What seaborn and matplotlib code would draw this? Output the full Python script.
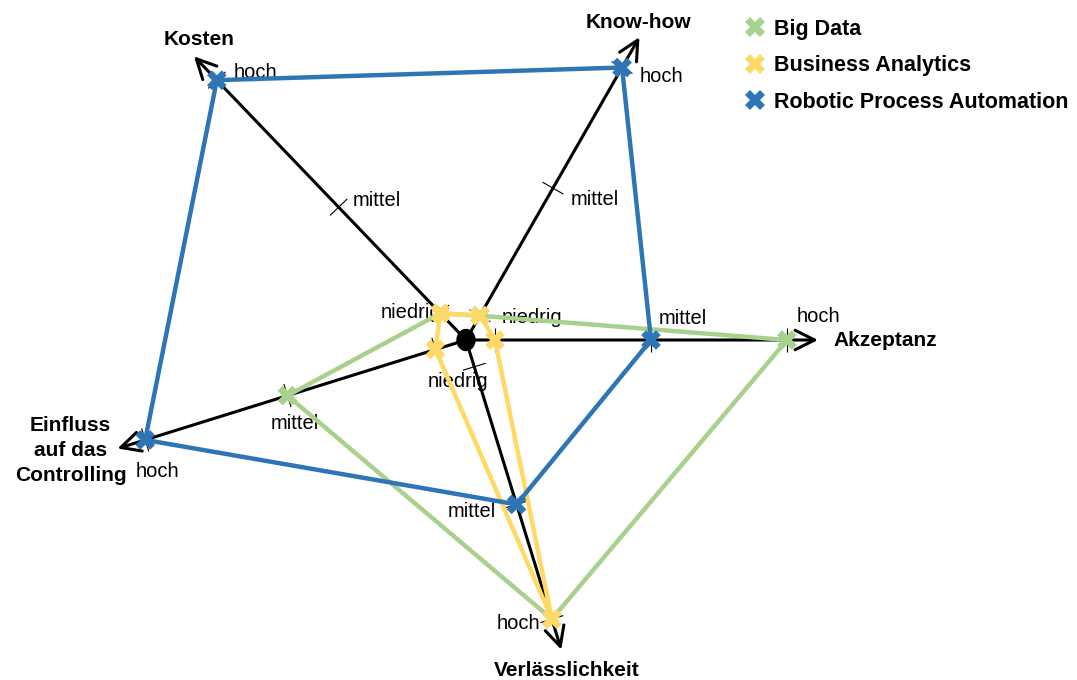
import numpy as np
import pandas as pd
import matplotlib
matplotlib.use("Agg")
import matplotlib.pyplot as plt
from matplotlib.collections import LineCollection
from matplotlib.patches import Ellipse
import seaborn as sns

# Dimensionen des Netzdiagramms und Ausprägungen
dimensions = ["Kosten", "Know-how", "Akzeptanz", "Verlässlichkeit", "Einfluss\nauf das\nControlling"]
levels = ["niedrig", "mittel", "hoch"]
series = ["Big Data", "Business Analytics", "Robotic Process Automation"]

big_data = ["niedrig", "niedrig", "hoch", "hoch", "mittel"]
business_analytics = ["niedrig", "niedrig", "niedrig", "hoch", "niedrig"]
robotic_process_automation = ["hoch", "hoch", "mittel", "mittel", "hoch"]

colors = ["#A9D18E", "#FFD966", "#2E75B6"]

# Lage der Achsen: Winkel in Grad, Abstand der Stufen vom Mittelpunkt (px)
axis_angle = [133.8, 60.2, 0.0, -72.9, 197.3]
level_radius = [[37, 184, 360], [28, 175, 314], [29, 185, 321], [28, 172, 292], [32, 187, 336]]
arrow_length = [393, 349, 352, 324, 365]

# Beschriftung der Stufen: (Achse, Stufe, dx, dy, ha)
level_labels = [
    (0, "niedrig", 1, 1, "right"),
    (0, "mittel", 14, 7, "left"),
    (0, "hoch", 17, 8, "left"),
    (1, "niedrig", 22, -2, "left"),
    (1, "mittel", 18, -11, "left"),
    (1, "hoch", 18, -9, "left"),
    (2, "mittel", 8, 22, "left"),
    (2, "hoch", 10, 23, "left"),
    (3, "niedrig", -16, -15, "center"),
    (3, "mittel", -21, -7, "right"),
    (3, "hoch", -12, -4, "right"),
    (4, "mittel", 7, -28, "center"),
    (4, "hoch", -10, -32, "left"),
]
# Beschriftung der Achsen: (dx, dy, ha)
title_offsets = [(5, 17, "center"), (-1, 15, "center"), (15, 0, "left"), (5, -21, "center"), (-47, -2, "center")]


def point(i, r):
    a = np.radians(axis_angle[i])
    return r * np.cos(a), r * np.sin(a)


sns.set_style("white")
plt.rcParams["font.family"] = ["Liberation Sans", "DejaVu Sans"]
plt.rcParams["text.color"] = "black"

fig = plt.figure(figsize=(10.77, 6.8), dpi=100)
ax = fig.add_axes([0, 0, 1, 1])
ax.set_xlim(-466, 611)
ax.set_ylim(-340, 340)
ax.set_axis_off()

# Achsen mit Pfeilen und Titeln
for i, name in enumerate(dimensions):
    tx, ty = point(i, arrow_length[i])
    ax.annotate("", xy=(tx, ty), xytext=(0, 0),
                arrowprops=dict(arrowstyle="->,head_length=0.7,head_width=0.35", lw=2.2,
                                color="black", shrinkA=0, shrinkB=0, mutation_scale=20),
                zorder=1)
    dx, dy, ha = title_offsets[i]
    ax.annotate(name, xy=(tx, ty), xytext=(dx, dy), textcoords="offset pixels",
                ha=ha, va="center", multialignment="center", fontsize=15, fontweight="bold",
                linespacing=1.38, color="black")

# kleine Teilstriche an den Stufen
segs = []
for i in range(len(dimensions)):
    a = np.radians(axis_angle[i])
    nx, ny = -np.sin(a), np.cos(a)
    for r in level_radius[i]:
        px, py = point(i, r)
        segs.append([(px - 12 * nx, py - 12 * ny), (px + 12 * nx, py + 12 * ny)])
ax.add_collection(LineCollection(segs, colors="black", linewidths=0.8, zorder=2))

ax.add_patch(Ellipse((0, 0), 18, 21, color="black", zorder=2))

for i, lvl, dx, dy, ha in level_labels:
    px, py = point(i, level_radius[i][levels.index(lvl)])
    ax.annotate(lvl, xy=(px, py), xytext=(dx, dy), textcoords="offset pixels",
                ha=ha, va="center", fontsize=14.5, color="black")

# Daten der Reihen
rows = []
for name, vals in zip(series, [big_data, business_analytics, robotic_process_automation]):
    for i, lvl in enumerate(vals):
        x, y = point(i, level_radius[i][levels.index(lvl)])
        rows.append({"series": name, "dimension": dimensions[i], "x": x, "y": y})
df = pd.DataFrame(rows)
df_closed = pd.concat([df, df.groupby("series", sort=False).head(1)]).reset_index(drop=True)
df_closed["order"] = df_closed.groupby("series").cumcount()
df_closed = df_closed.sort_values(["series", "order"], kind="stable")

sns.lineplot(data=df_closed, x="x", y="y", hue="series", hue_order=series, palette=colors,
             sort=False, estimator=None, lw=3.2, legend=False, ax=ax, zorder=3)
sns.scatterplot(data=df, x="x", y="y", hue="series", hue_order=series, palette=colors,
                marker="X", s=200, linewidth=0, ax=ax, zorder=4)

handles, labels = ax.get_legend_handles_labels()
ax.legend(handles=handles, labels=labels, loc="upper left", bbox_to_anchor=(733 / 1077, 1 - 8 / 680),
          frameon=False, borderpad=0, handlelength=1.0, handletextpad=0.4, labelspacing=0.72,
          prop={"weight": "bold", "size": 15.5}, markerscale=1.05)
ax.set_xlim(-466, 611)
ax.set_ylim(-340, 340)

fig.savefig("out.png", dpi=100)
